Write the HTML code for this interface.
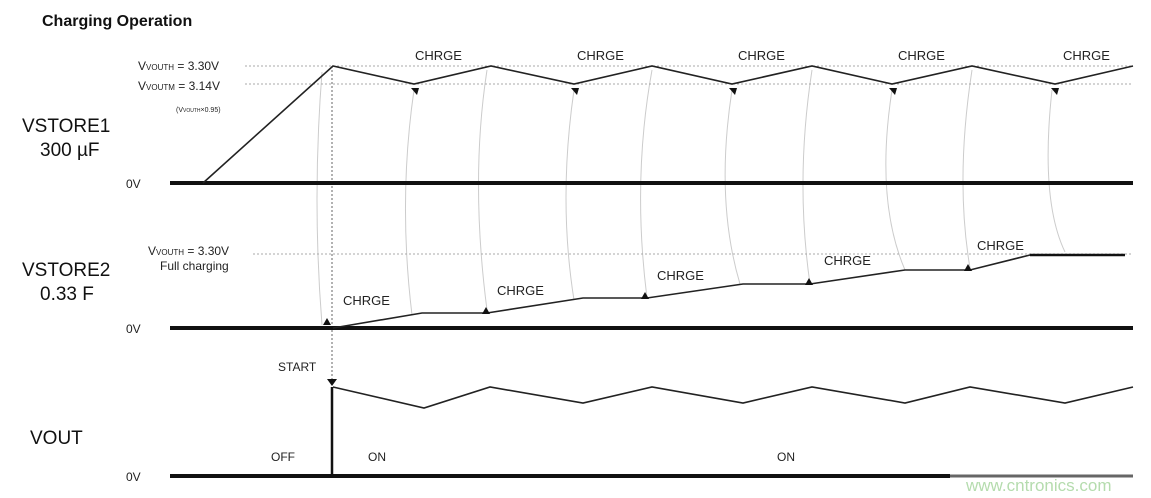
<!DOCTYPE html>
<html><head><meta charset="utf-8"><style>
body{margin:0;background:#fff;}
svg{display:block;font-family:"Liberation Sans",Arial,sans-serif;}
</style></head><body>
<svg width="1151" height="498" viewBox="0 0 1151 498" xmlns="http://www.w3.org/2000/svg">
<text x="42" y="26" font-size="16" font-weight="bold" fill="#111">Charging Operation</text>
<g fill="none" stroke="#ccc" stroke-width="1">
<path d="M322 72 Q312 200 322 325"/>
<path d="M414 90 Q398 200 412 315"/>
<path d="M487 70 Q470 180 487 310"/>
<path d="M574 90 Q558 200 574 300"/>
<path d="M652 70 Q632 180 647 298"/>
<path d="M732 90 Q715 200 740 284"/>
<path d="M812 70 Q795 180 810 284"/>
<path d="M892 90 Q875 200 905 270"/>
<path d="M972 70 Q955 180 970 268"/>
<path d="M1052 90 Q1040 200 1065 252"/>
</g>
<g stroke="#aaa" stroke-width="1" stroke-dasharray="2,2">
<line x1="245" y1="66" x2="1133" y2="66"/>
<line x1="245" y1="84" x2="1133" y2="84"/>
<line x1="253" y1="254" x2="1133" y2="254"/>
<line x1="332" y1="66" x2="332" y2="385" stroke="#666"/>
</g>
<g fill="#222" font-size="12">
<text x="138" y="70">V<tspan font-size="8">VOUTH</tspan> = 3.30V</text>
<text x="138" y="90">V<tspan font-size="8">VOUTM</tspan> = 3.14V</text>
<text x="176" y="112" font-size="7">(V<tspan font-size="5">VOUTH</tspan>×0.95)</text>
<text x="148" y="255">V<tspan font-size="8">VOUTH</tspan> = 3.30V</text>
<text x="160" y="270">Full charging</text>
<text x="126" y="188">0V</text>
<text x="126" y="333">0V</text>
<text x="126" y="481">0V</text>
<text x="278" y="371">START</text>
<text x="271" y="461">OFF</text>
<text x="368" y="461">ON</text>
<text x="777" y="461">ON</text>
</g>
<g fill="#222" font-size="13">
<text x="415" y="60">CHRGE</text><text x="577" y="60">CHRGE</text><text x="738" y="60">CHRGE</text><text x="898" y="60">CHRGE</text><text x="1063" y="60">CHRGE</text>
<text x="343" y="305">CHRGE</text><text x="497" y="295">CHRGE</text><text x="657" y="280">CHRGE</text><text x="824" y="265">CHRGE</text><text x="977" y="250">CHRGE</text>
</g>
<g fill="#111" font-size="19">
<text x="22" y="132">VSTORE1</text><text x="40" y="156">300 µF</text>
<text x="22" y="276">VSTORE2</text><text x="40" y="300">0.33 F</text>
<text x="30" y="444">VOUT</text>
</g>
<g stroke="#111" stroke-width="4">
<line x1="170" y1="183" x2="1133" y2="183"/>
<line x1="170" y1="328" x2="1133" y2="328"/>
<line x1="170" y1="476" x2="950" y2="476"/>
</g>
<line x1="950" y1="476" x2="1133" y2="476" stroke="#666" stroke-width="3"/>
<g fill="none" stroke="#222" stroke-width="1.6">
<polyline points="203,183 333,66 414,84 491,66 574,84 652,66 732,84 812,66 892,84 972,66 1055,84 1133,66"/>
<polyline points="333,328 422,313 487,313 583,298 647,298 743,284 810,284 905,270 970,270 1030,255"/>
<polyline points="333,387 424,408 490,387 583,403 652,387 743,403 812,387 905,403 970,387 1065,403 1133,387"/>
</g>
<line x1="1030" y1="255" x2="1125" y2="255" stroke="#111" stroke-width="2.5"/>
<line x1="332" y1="387" x2="332" y2="476" stroke="#111" stroke-width="2.5"/>
<g fill="#111">
<path d="M327 379 L337 379 L332 386Z"/>
<path d="M411 88 L419 88 L417 95Z"/><path d="M571 88 L579 88 L577 95Z"/><path d="M729 88 L737 88 L735 95Z"/><path d="M889 88 L897 88 L895 95Z"/><path d="M1051 88 L1059 88 L1057 95Z"/>
<path d="M323 325 L331 325 L327 318Z"/><path d="M482 314 L490 314 L486 307Z"/><path d="M641 299 L649 299 L645 292Z"/><path d="M805 285 L813 285 L809 278Z"/><path d="M964 271 L972 271 L968 264Z"/>
</g>
<text x="966" y="491" font-size="17" fill="#b5dcae">www.cntronics.com</text>
</svg>
</body></html>
